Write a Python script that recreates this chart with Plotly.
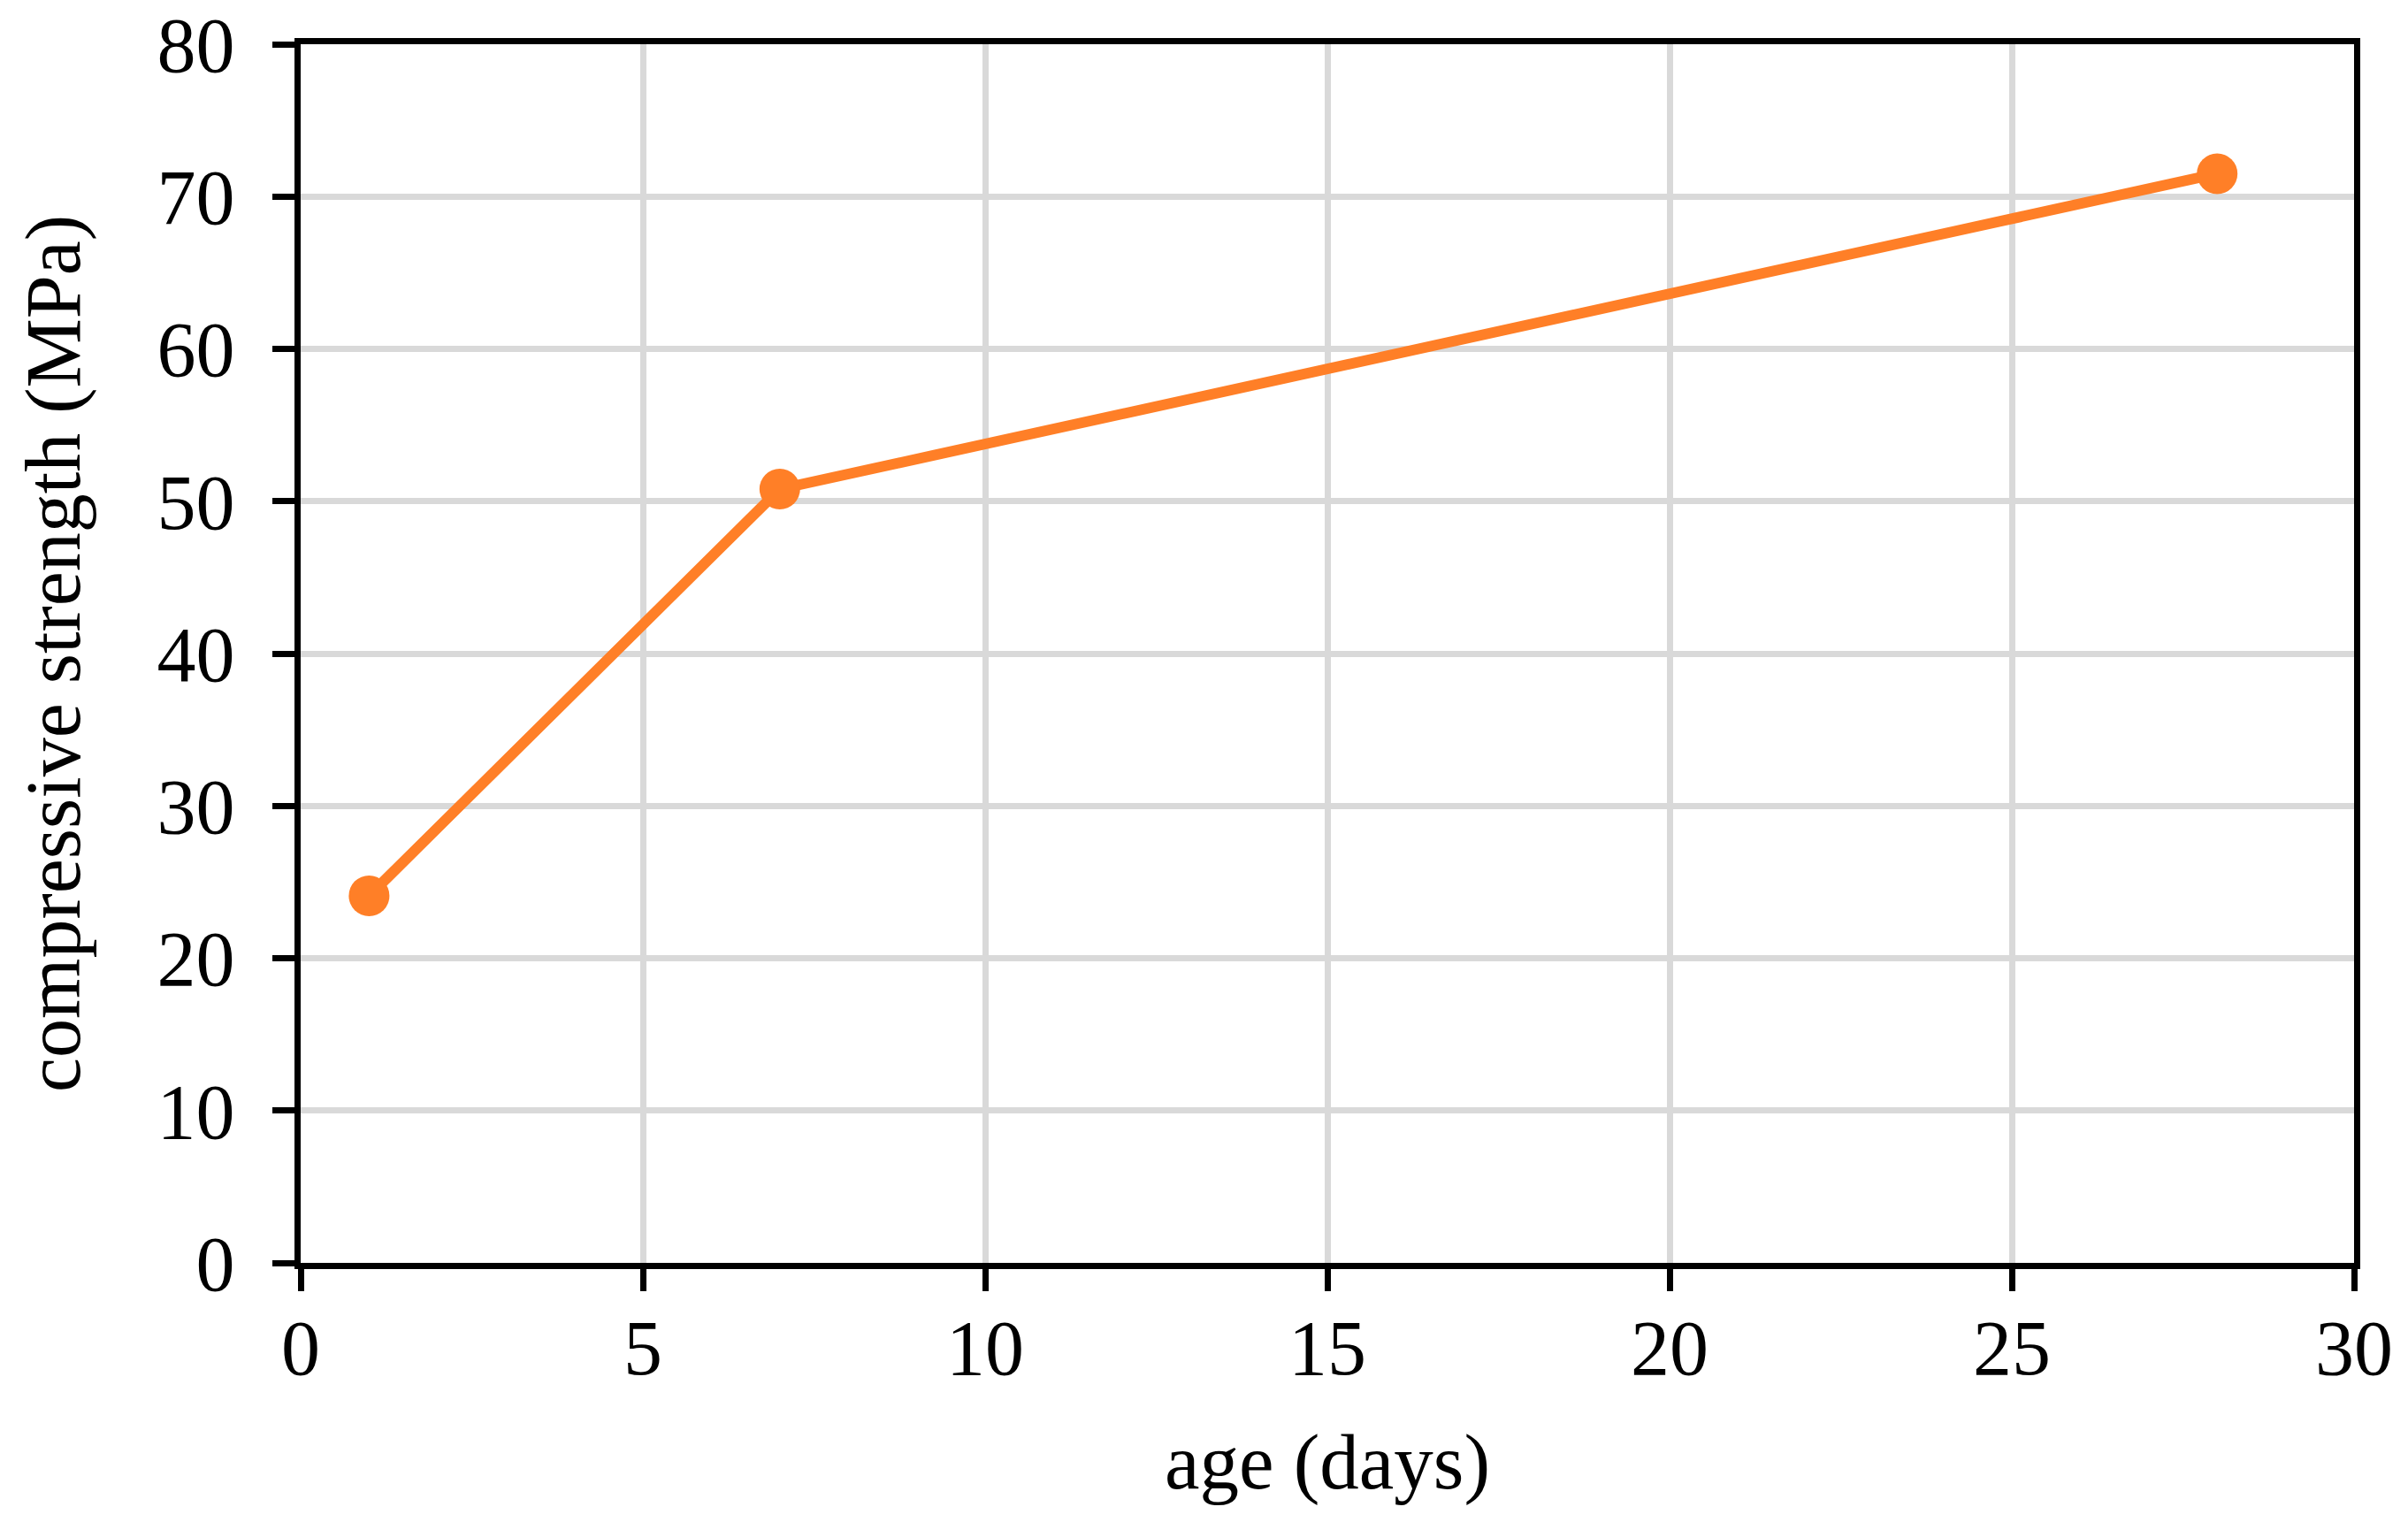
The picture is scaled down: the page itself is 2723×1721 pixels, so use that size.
import plotly.graph_objects as go

age_days = [1, 7, 28]
strength_mpa = [24.1, 50.8, 71.5]
x_ticks = [0, 5, 10, 15, 20, 25, 30]
y_ticks = [0, 10, 20, 30, 40, 50, 60, 70, 80]

FONT = "Liberation Serif, Times New Roman, serif"
ORANGE = "#FF7F27"

fig = go.Figure()
fig.add_trace(go.Scatter(
    x=age_days, y=strength_mpa, mode="lines+markers",
    line=dict(color=ORANGE, width=12),
    marker=dict(color=ORANGE, size=46),
    showlegend=False,
))

axis_common = dict(
    showline=True, linecolor="black", linewidth=7, mirror=True,
    showgrid=True, gridcolor="#d9d9d9", gridwidth=7,
    zeroline=False,
    ticks="outside", ticklen=25, tickwidth=7, tickcolor="black",
    tickfont=dict(family=FONT, size=88, color="black"),
    ticklabeloverflow="allow",
    automargin=False,
)

fig.update_xaxes(
    range=[0, 30], tickvals=x_ticks, ticktext=[str(v) for v in x_ticks],
    title=dict(text="age (days)", font=dict(family=FONT, size=89, color="black"), standoff=52),
    ticklabelstandoff=-12,
    **axis_common,
)
fig.update_yaxes(
    range=[0, 80], tickvals=y_ticks, ticktext=[str(v) for v in y_ticks],
    title=dict(text="compressive strength (MPa)", font=dict(family=FONT, size=88, color="black"), standoff=60),
    ticklabelstandoff=25,
    **axis_common,
)

fig.update_layout(
    width=2723, height=1721,
    margin=dict(l=340, r=61, t=50, b=293),
    paper_bgcolor="white", plot_bgcolor="white",
    font=dict(family=FONT, color="black"),
)

# remove the page's default body margin so the figure fills the window exactly
fig.write_html(
    "out.html",
    config={"displayModeBar": False},
    post_script="document.body.style.margin='0';document.body.style.overflow='hidden';",
)
